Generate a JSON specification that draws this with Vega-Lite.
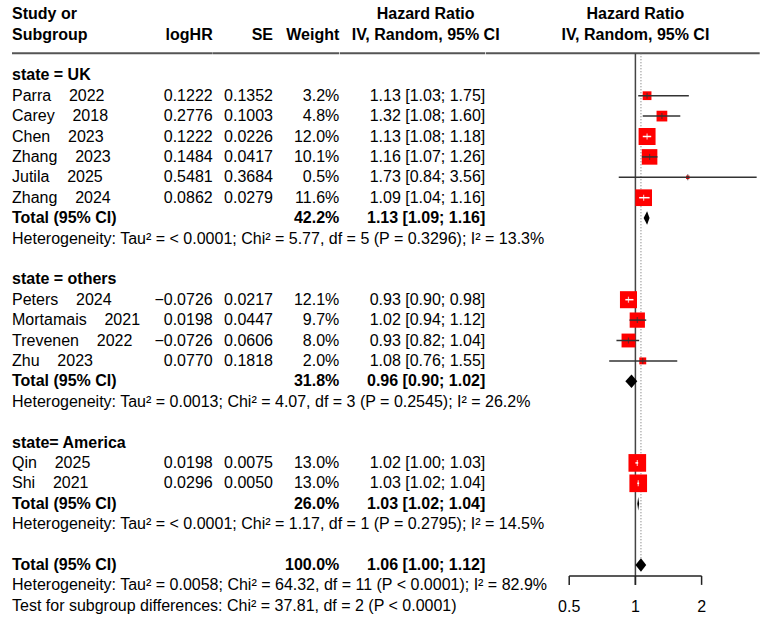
{
  "$schema": "https://vega.github.io/schema/vega-lite/v6.json",
  "background": "white",
  "padding": {"left": 11, "top": 0, "right": 0, "bottom": 0},
  "spacing": 0,
  "bounds": "flush",
  "config": {"view": {"stroke": null}, "font": "Liberation Sans"},
  "datasets": {
    "studies": [
      {"row": 2, "study": "Parra\u00a0\u00a0\u00a0\u00a02022", "loghr": "0.1222", "se": "0.1352", "wt": "3.2%", "w": 3.2, "hr": 1.13, "lo": 1.03, "hi": 1.75, "ci": "1.13 [1.03; 1.75]"},
      {"row": 3, "study": "Carey\u00a0\u00a0\u00a0\u00a02018", "loghr": "0.2776", "se": "0.1003", "wt": "4.8%", "w": 4.8, "hr": 1.32, "lo": 1.08, "hi": 1.60, "ci": "1.32 [1.08; 1.60]"},
      {"row": 4, "study": "Chen\u00a0\u00a0\u00a0\u00a02023", "loghr": "0.1222", "se": "0.0226", "wt": "12.0%", "w": 12.0, "hr": 1.13, "lo": 1.08, "hi": 1.18, "ci": "1.13 [1.08; 1.18]"},
      {"row": 5, "study": "Zhang\u00a0\u00a0\u00a0\u00a02023", "loghr": "0.1484", "se": "0.0417", "wt": "10.1%", "w": 10.1, "hr": 1.16, "lo": 1.07, "hi": 1.26, "ci": "1.16 [1.07; 1.26]"},
      {"row": 6, "study": "Jutila\u00a0\u00a0\u00a0\u00a02025", "loghr": "0.5481", "se": "0.3684", "wt": "0.5%", "w": 0.5, "hr": 1.73, "lo": 0.84, "hi": 3.56, "ci": "1.73 [0.84; 3.56]"},
      {"row": 7, "study": "Zhang\u00a0\u00a0\u00a0\u00a02024", "loghr": "0.0862", "se": "0.0279", "wt": "11.6%", "w": 11.6, "hr": 1.09, "lo": 1.04, "hi": 1.16, "ci": "1.09 [1.04; 1.16]"},
      {"row": 12, "study": "Peters\u00a0\u00a0\u00a0\u00a02024", "loghr": "\u22120.0726", "se": "0.0217", "wt": "12.1%", "w": 12.1, "hr": 0.93, "lo": 0.90, "hi": 0.98, "ci": "0.93 [0.90; 0.98]"},
      {"row": 13, "study": "Mortamais\u00a0\u00a0\u00a0\u00a02021", "loghr": "0.0198", "se": "0.0447", "wt": "9.7%", "w": 9.7, "hr": 1.02, "lo": 0.94, "hi": 1.12, "ci": "1.02 [0.94; 1.12]"},
      {"row": 14, "study": "Trevenen\u00a0\u00a0\u00a0\u00a02022", "loghr": "\u22120.0726", "se": "0.0606", "wt": "8.0%", "w": 8.0, "hr": 0.93, "lo": 0.82, "hi": 1.04, "ci": "0.93 [0.82; 1.04]"},
      {"row": 15, "study": "Zhu\u00a0\u00a0\u00a0\u00a02023", "loghr": "0.0770", "se": "0.1818", "wt": "2.0%", "w": 2.0, "hr": 1.08, "lo": 0.76, "hi": 1.55, "ci": "1.08 [0.76; 1.55]"},
      {"row": 20, "study": "Qin\u00a0\u00a0\u00a0\u00a02025", "loghr": "0.0198", "se": "0.0075", "wt": "13.0%", "w": 13.0, "hr": 1.02, "lo": 1.00, "hi": 1.03, "ci": "1.02 [1.00; 1.03]"},
      {"row": 21, "study": "Shi\u00a0\u00a0\u00a0\u00a02021", "loghr": "0.0296", "se": "0.0050", "wt": "13.0%", "w": 13.0, "hr": 1.03, "lo": 1.02, "hi": 1.04, "ci": "1.03 [1.02; 1.04]"}
    ],
    "labels": [
      {"row": -2, "col": "study", "txt": "Study or", "b": 1},
      {"row": -1, "col": "study", "txt": "Subgroup", "b": 1},
      {"row": -1, "col": "loghr", "txt": "logHR", "b": 1},
      {"row": -1, "col": "se", "txt": "SE", "b": 1},
      {"row": -1, "col": "wt", "txt": "Weight", "b": 1},
      {"row": -2, "col": "ci", "txt": "Hazard Ratio", "b": 1},
      {"row": -1, "col": "ci", "txt": "IV, Random, 95% CI", "b": 1},
      {"row": -2, "col": "forest", "txt": "Hazard Ratio", "b": 1, "hr": 1},
      {"row": -1, "col": "forest", "txt": "IV, Random, 95% CI", "b": 1, "hr": 1},
      {"row": 1, "col": "study", "txt": "state = UK", "b": 1},
      {"row": 8, "col": "study", "txt": "Total (95% CI)", "b": 1},
      {"row": 8, "col": "wt", "txt": "42.2%", "b": 1},
      {"row": 8, "col": "ci", "txt": "1.13 [1.09; 1.16]", "b": 1},
      {"row": 9, "col": "study", "txt": "Heterogeneity: Tau² = < 0.0001; Chi² = 5.77, df = 5 (P = 0.3296); I² = 13.3%", "b": 0},
      {"row": 11, "col": "study", "txt": "state = others", "b": 1},
      {"row": 16, "col": "study", "txt": "Total (95% CI)", "b": 1},
      {"row": 16, "col": "wt", "txt": "31.8%", "b": 1},
      {"row": 16, "col": "ci", "txt": "0.96 [0.90; 1.02]", "b": 1},
      {"row": 17, "col": "study", "txt": "Heterogeneity: Tau² = 0.0013; Chi² = 4.07, df = 3 (P = 0.2545); I² = 26.2%", "b": 0},
      {"row": 19, "col": "study", "txt": "state= America", "b": 1},
      {"row": 22, "col": "study", "txt": "Total (95% CI)", "b": 1},
      {"row": 22, "col": "wt", "txt": "26.0%", "b": 1},
      {"row": 22, "col": "ci", "txt": "1.03 [1.02; 1.04]", "b": 1},
      {"row": 23, "col": "study", "txt": "Heterogeneity: Tau² = < 0.0001; Chi² = 1.17, df = 1 (P = 0.2795); I² = 14.5%", "b": 0},
      {"row": 25, "col": "study", "txt": "Total (95% CI)", "b": 1},
      {"row": 25, "col": "wt", "txt": "100.0%", "b": 1},
      {"row": 25, "col": "ci", "txt": "1.06 [1.00; 1.12]", "b": 1},
      {"row": 26, "col": "study", "txt": "Heterogeneity: Tau² = 0.0058; Chi² = 64.32, df = 11 (P < 0.0001); I² = 82.9%", "b": 0},
      {"row": 27, "col": "study", "txt": "Test for subgroup differences: Chi² = 37.81, df = 2 (P < 0.0001)", "b": 0}
    ],
    "diamonds": [
      {"grp": "UK", "hr": 1.09, "top": 8, "bot": 8},
      {"grp": "UK", "hr": 1.13, "top": 7.67, "bot": 8.33},
      {"grp": "UK", "hr": 1.16, "top": 8, "bot": 8},
      {"grp": "others", "hr": 0.90, "top": 16, "bot": 16},
      {"grp": "others", "hr": 0.96, "top": 15.67, "bot": 16.33},
      {"grp": "others", "hr": 1.02, "top": 16, "bot": 16},
      {"grp": "America", "hr": 1.02, "top": 22, "bot": 22},
      {"grp": "America", "hr": 1.03, "top": 21.67, "bot": 22.33},
      {"grp": "America", "hr": 1.04, "top": 22, "bot": 22},
      {"grp": "Overall", "hr": 1.00, "top": 25, "bot": 25},
      {"grp": "Overall", "hr": 1.06, "top": 24.67, "bot": 25.33},
      {"grp": "Overall", "hr": 1.12, "top": 25, "bot": 25}
    ]
  },
  "hconcat": [
    {
      "width": 139, "height": 617,
      "layer": [
        {"data": {"values": [{"row": -0.08}]}, "mark": {"type": "rule", "color": "#555", "strokeWidth": 2},
         "encoding": {"y": {"field": "row", "type": "quantitative", "scale": {"domain": [0, 27], "range": [54.9, 605.7]}, "axis": null}}},
        {"data": {"name": "studies"}, "transform": [{"fold": ["study"], "as": ["col", "txt"]}],
         "mark": {"type": "text", "align": "left", "baseline": "middle", "font": "Liberation Sans", "fontSize": 16, "color": "black"},
         "encoding": {"x": {"field": "col", "type": "nominal", "scale": {"type": "band", "paddingInner": 0, "paddingOuter": 0}, "bandPosition": 0, "axis": null},
                      "y": {"field": "row", "type": "quantitative", "scale": {"domain": [0, 27], "range": [54.9, 605.7]}, "axis": null},
                      "text": {"field": "txt"}}},
        {"data": {"name": "labels"}, "transform": [{"filter": "datum.col == 'study' && datum.b == 0"}],
         "mark": {"type": "text", "align": "left", "baseline": "middle", "font": "Liberation Sans", "fontSize": 16, "color": "black"},
         "encoding": {"x": {"field": "col", "type": "nominal", "scale": {"type": "band", "paddingInner": 0, "paddingOuter": 0}, "bandPosition": 0, "axis": null},
                      "y": {"field": "row", "type": "quantitative", "scale": {"domain": [0, 27], "range": [54.9, 605.7]}, "axis": null},
                      "text": {"field": "txt"}}},
        {"data": {"name": "labels"}, "transform": [{"filter": "datum.col == 'study' && datum.b == 1"}],
         "mark": {"type": "text", "align": "left", "baseline": "middle", "font": "Liberation Sans", "fontSize": 16, "fontWeight": "bold", "color": "black"},
         "encoding": {"x": {"field": "col", "type": "nominal", "scale": {"type": "band", "paddingInner": 0, "paddingOuter": 0}, "bandPosition": 0, "axis": null},
                      "y": {"field": "row", "type": "quantitative", "scale": {"domain": [0, 27], "range": [54.9, 605.7]}, "axis": null},
                      "text": {"field": "txt"}}}
      ]
    },
    {
      "width": 61.7, "height": 617,
      "layer": [
        {"data": {"values": [{"row": -0.08}]}, "mark": {"type": "rule", "color": "#555", "strokeWidth": 2},
         "encoding": {"y": {"field": "row", "type": "quantitative", "scale": {"domain": [0, 27], "range": [54.9, 605.7]}, "axis": null}}},
        {"data": {"name": "studies"}, "transform": [{"fold": ["loghr"], "as": ["col", "txt"]}],
         "mark": {"type": "text", "align": "right", "baseline": "middle", "font": "Liberation Sans", "fontSize": 16, "color": "black"},
         "encoding": {"x": {"field": "col", "type": "nominal", "scale": {"type": "band", "paddingInner": 0, "paddingOuter": 0}, "bandPosition": 1, "axis": null},
                      "y": {"field": "row", "type": "quantitative", "scale": {"domain": [0, 27], "range": [54.9, 605.7]}, "axis": null},
                      "text": {"field": "txt"}}},
        {"data": {"name": "labels"}, "transform": [{"filter": "datum.col == 'loghr'"}],
         "mark": {"type": "text", "align": "right", "baseline": "middle", "font": "Liberation Sans", "fontSize": 16, "fontWeight": "bold", "color": "black"},
         "encoding": {"x": {"field": "col", "type": "nominal", "scale": {"type": "band", "paddingInner": 0, "paddingOuter": 0}, "bandPosition": 1, "axis": null},
                      "y": {"field": "row", "type": "quantitative", "scale": {"domain": [0, 27], "range": [54.9, 605.7]}, "axis": null},
                      "text": {"field": "txt"}}}
      ]
    },
    {
      "width": 60, "height": 617,
      "layer": [
        {"data": {"values": [{"row": -0.08}]}, "mark": {"type": "rule", "color": "#555", "strokeWidth": 2},
         "encoding": {"y": {"field": "row", "type": "quantitative", "scale": {"domain": [0, 27], "range": [54.9, 605.7]}, "axis": null}}},
        {"data": {"name": "studies"}, "transform": [{"fold": ["se"], "as": ["col", "txt"]}],
         "mark": {"type": "text", "align": "right", "baseline": "middle", "font": "Liberation Sans", "fontSize": 16, "color": "black"},
         "encoding": {"x": {"field": "col", "type": "nominal", "scale": {"type": "band", "paddingInner": 0, "paddingOuter": 0}, "bandPosition": 1, "axis": null},
                      "y": {"field": "row", "type": "quantitative", "scale": {"domain": [0, 27], "range": [54.9, 605.7]}, "axis": null},
                      "text": {"field": "txt"}}},
        {"data": {"name": "labels"}, "transform": [{"filter": "datum.col == 'se'"}],
         "mark": {"type": "text", "align": "right", "baseline": "middle", "font": "Liberation Sans", "fontSize": 16, "fontWeight": "bold", "color": "black"},
         "encoding": {"x": {"field": "col", "type": "nominal", "scale": {"type": "band", "paddingInner": 0, "paddingOuter": 0}, "bandPosition": 1, "axis": null},
                      "y": {"field": "row", "type": "quantitative", "scale": {"domain": [0, 27], "range": [54.9, 605.7]}, "axis": null},
                      "text": {"field": "txt"}}}
      ]
    },
    {
      "width": 66.3, "height": 617,
      "layer": [
        {"data": {"values": [{"row": -0.08}]}, "mark": {"type": "rule", "color": "#555", "strokeWidth": 2},
         "encoding": {"y": {"field": "row", "type": "quantitative", "scale": {"domain": [0, 27], "range": [54.9, 605.7]}, "axis": null}}},
        {"data": {"name": "studies"}, "transform": [{"fold": ["wt"], "as": ["col", "txt"]}],
         "mark": {"type": "text", "align": "right", "baseline": "middle", "font": "Liberation Sans", "fontSize": 16, "color": "black"},
         "encoding": {"x": {"field": "col", "type": "nominal", "scale": {"type": "band", "paddingInner": 0, "paddingOuter": 0}, "bandPosition": 1, "axis": null},
                      "y": {"field": "row", "type": "quantitative", "scale": {"domain": [0, 27], "range": [54.9, 605.7]}, "axis": null},
                      "text": {"field": "txt"}}},
        {"data": {"name": "labels"}, "transform": [{"filter": "datum.col == 'wt'"}],
         "mark": {"type": "text", "align": "right", "baseline": "middle", "font": "Liberation Sans", "fontSize": 16, "fontWeight": "bold", "color": "black"},
         "encoding": {"x": {"field": "col", "type": "nominal", "scale": {"type": "band", "paddingInner": 0, "paddingOuter": 0}, "bandPosition": 1, "axis": null},
                      "y": {"field": "row", "type": "quantitative", "scale": {"domain": [0, 27], "range": [54.9, 605.7]}, "axis": null},
                      "text": {"field": "txt"}}}
      ]
    },
    {
      "width": 145.3, "height": 617,
      "layer": [
        {"data": {"values": [{"row": -0.08}]}, "mark": {"type": "rule", "color": "#555", "strokeWidth": 2},
         "encoding": {"y": {"field": "row", "type": "quantitative", "scale": {"domain": [0, 27], "range": [54.9, 605.7]}, "axis": null}}},
        {"data": {"name": "studies"}, "transform": [{"fold": ["ci"], "as": ["col", "txt"]}],
         "mark": {"type": "text", "align": "right", "baseline": "middle", "font": "Liberation Sans", "fontSize": 16, "color": "black"},
         "encoding": {"x": {"field": "col", "type": "nominal", "scale": {"type": "band", "paddingInner": 0, "paddingOuter": 0}, "bandPosition": 1, "axis": null},
                      "y": {"field": "row", "type": "quantitative", "scale": {"domain": [0, 27], "range": [54.9, 605.7]}, "axis": null},
                      "text": {"field": "txt"}}},
        {"data": {"name": "labels"}, "transform": [{"filter": "datum.col == 'ci' && datum.row > 0"}],
         "mark": {"type": "text", "align": "right", "baseline": "middle", "font": "Liberation Sans", "fontSize": 16, "fontWeight": "bold", "color": "black"},
         "encoding": {"x": {"field": "col", "type": "nominal", "scale": {"type": "band", "paddingInner": 0, "paddingOuter": 0}, "bandPosition": 1, "axis": null},
                      "y": {"field": "row", "type": "quantitative", "scale": {"domain": [0, 27], "range": [54.9, 605.7]}, "axis": null},
                      "text": {"field": "txt"}}},
        {"data": {"name": "labels"}, "transform": [{"filter": "datum.col == 'ci' && datum.row < 0"}],
         "mark": {"type": "text", "align": "center", "baseline": "middle", "font": "Liberation Sans", "fontSize": 16, "fontWeight": "bold", "color": "black", "dx": 13},
         "encoding": {"x": {"field": "col", "type": "nominal", "scale": {"type": "band", "paddingInner": 0, "paddingOuter": 0}, "bandPosition": 0.5, "axis": null},
                      "y": {"field": "row", "type": "quantitative", "scale": {"domain": [0, 27], "range": [54.9, 605.7]}, "axis": null},
                      "text": {"field": "txt"}}}
      ]
    },
    {
      "width": 273.7, "height": 617,
      "layer": [
        {"data": {"values": [{"row": -0.08}]}, "mark": {"type": "rule", "color": "#555", "strokeWidth": 2},
         "encoding": {"y": {"field": "row", "type": "quantitative", "scale": {"domain": [0, 27], "range": [54.9, 605.7]}, "axis": null}}},
        {"data": {"values": [{"hr": 1, "row": -0.08, "row2": 25.98}]},
         "mark": {"type": "rule", "color": "#444", "strokeWidth": 1.5},
         "encoding": {"x": {"field": "hr", "type": "quantitative", "scale": {"type": "log", "domain": [0.2092, 3.675], "nice": false, "zero": false}, "axis": null},
                      "y": {"field": "row", "type": "quantitative", "scale": {"domain": [0, 27], "range": [54.9, 605.7]}, "axis": null},
                      "y2": {"field": "row2"}}},
        {"data": {"values": [{"hr": 1.06, "row": -0.08, "row2": 24.67}]},
         "mark": {"type": "rule", "color": "#666", "strokeWidth": 1, "strokeDash": [1, 2]},
         "encoding": {"x": {"field": "hr", "type": "quantitative", "scale": {"type": "log", "domain": [0.2092, 3.675], "nice": false, "zero": false}, "axis": null},
                      "y": {"field": "row", "type": "quantitative", "scale": {"domain": [0, 27], "range": [54.9, 605.7]}, "axis": null},
                      "y2": {"field": "row2"}}},
        {"data": {"values": [{"hr": 0.5, "hr2": 2, "row": 25.54}]},
         "mark": {"type": "rule", "color": "#222", "strokeWidth": 1.5},
         "encoding": {"x": {"field": "hr", "type": "quantitative", "scale": {"type": "log", "domain": [0.2092, 3.675], "nice": false, "zero": false}, "axis": null},
                      "x2": {"field": "hr2"},
                      "y": {"field": "row", "type": "quantitative", "scale": {"domain": [0, 27], "range": [54.9, 605.7]}, "axis": null}}},
        {"data": {"values": [{"hr": 0.5, "row": 25.54, "row2": 25.98}, {"hr": 1, "row": 25.54, "row2": 25.98}, {"hr": 2, "row": 25.54, "row2": 25.98}]},
         "mark": {"type": "rule", "color": "#222", "strokeWidth": 1.5},
         "encoding": {"x": {"field": "hr", "type": "quantitative", "scale": {"type": "log", "domain": [0.2092, 3.675], "nice": false, "zero": false}, "axis": null},
                      "y": {"field": "row", "type": "quantitative", "scale": {"domain": [0, 27], "range": [54.9, 605.7]}, "axis": null},
                      "y2": {"field": "row2"}}},
        {"data": {"values": [{"hr": 0.5, "row": 27.05}, {"hr": 1, "row": 27.05}, {"hr": 2, "row": 27.05}]},
         "mark": {"type": "text", "align": "center", "baseline": "middle", "font": "Liberation Sans", "fontSize": 16, "color": "black"},
         "encoding": {"x": {"field": "hr", "type": "quantitative", "scale": {"type": "log", "domain": [0.2092, 3.675], "nice": false, "zero": false}, "axis": null},
                      "y": {"field": "row", "type": "quantitative", "scale": {"domain": [0, 27], "range": [54.9, 605.7]}, "axis": null},
                      "text": {"field": "hr", "type": "quantitative"}}},
        {"data": {"name": "studies"},
         "mark": {"type": "point", "shape": "square", "filled": true, "color": "#FF0000", "opacity": 1, "strokeWidth": 0},
         "encoding": {"x": {"field": "hr", "type": "quantitative", "scale": {"type": "log", "domain": [0.2092, 3.675], "nice": false, "zero": false}, "axis": null},
                      "y": {"field": "row", "type": "quantitative", "scale": {"domain": [0, 27], "range": [54.9, 605.7]}, "axis": null},
                      "size": {"field": "w", "type": "quantitative", "scale": {"domain": [0, 13], "range": [0, 312]}, "legend": null}}},
        {"data": {"name": "studies"},
         "mark": {"type": "rule", "strokeWidth": 1.5},
         "encoding": {"x": {"field": "lo", "type": "quantitative", "scale": {"type": "log", "domain": [0.2092, 3.675], "nice": false, "zero": false}, "axis": null},
                      "x2": {"field": "hi"},
                      "y": {"field": "row", "type": "quantitative", "scale": {"domain": [0, 27], "range": [54.9, 605.7]}, "axis": null},
                      "color": {"condition": {"test": "datum.w > 11", "value": "white"}, "value": "#333"}}},
        {"data": {"name": "studies"},
         "mark": {"type": "tick", "orient": "vertical", "size": 6, "thickness": 1.2},
         "encoding": {"x": {"field": "hr", "type": "quantitative", "scale": {"type": "log", "domain": [0.2092, 3.675], "nice": false, "zero": false}, "axis": null},
                      "y": {"field": "row", "type": "quantitative", "scale": {"domain": [0, 27], "range": [54.9, 605.7]}, "axis": null},
                      "color": {"condition": {"test": "datum.w > 11", "value": "white"}, "value": "#333"}}},
        {"data": {"name": "diamonds"},
         "mark": {"type": "area", "color": "black", "opacity": 1},
         "encoding": {"x": {"field": "hr", "type": "quantitative", "scale": {"type": "log", "domain": [0.2092, 3.675], "nice": false, "zero": false}, "axis": null},
                      "y": {"field": "top", "type": "quantitative", "scale": {"domain": [0, 27], "range": [54.9, 605.7]}, "axis": null},
                      "y2": {"field": "bot"},
                      "detail": {"field": "grp", "type": "nominal"}}},
        {"data": {"name": "labels"}, "transform": [{"filter": "datum.col == 'forest'"}],
         "mark": {"type": "text", "align": "center", "baseline": "middle", "font": "Liberation Sans", "fontSize": 16, "fontWeight": "bold", "color": "black"},
         "encoding": {"x": {"field": "hr", "type": "quantitative", "scale": {"type": "log", "domain": [0.2092, 3.675], "nice": false, "zero": false}, "axis": null},
                      "y": {"field": "row", "type": "quantitative", "scale": {"domain": [0, 27], "range": [54.9, 605.7]}, "axis": null},
                      "text": {"field": "txt"}}}
      ]
    }
  ]
}
